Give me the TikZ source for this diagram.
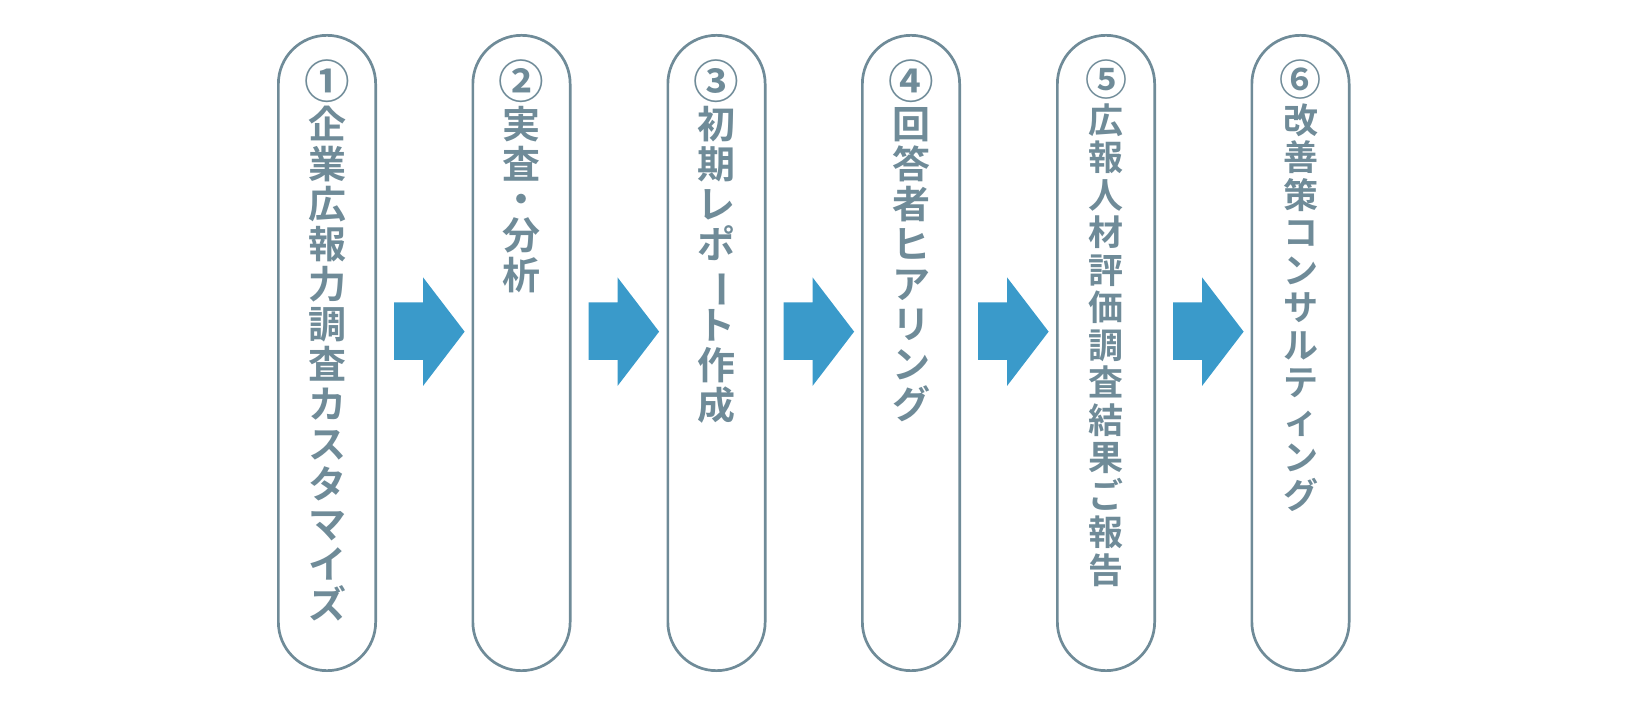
\documentclass[tikz,border=0pt]{standalone}
\usepackage{fontspec}
\newfontfamily\jpfont{Noto Sans CJK JP}[BoldFont={Noto Sans CJK JP Bold}]
\usetikzlibrary{calc,positioning}
\definecolor{pillgray}{RGB}{111,139,152}
\definecolor{flowblue}{RGB}{58,154,202}
\newcommand{\vbar}{\rotatebox[origin=c]{-90}{ー}}
\newcommand{\stepno}[1]{\scalebox{1.2}{#1}}

\begin{document}
\begin{tikzpicture}[x=1pt,y=1pt,
    pill/.style={draw=pillgray,line width=2.7pt,rounded corners=48.6pt,minimum width=97.3pt,minimum height=635.3pt,inner sep=0pt},
    steptext/.style={text=pillgray,align=center,inner sep=0pt,font=\jpfont\bfseries\fontsize{38}{40}\selectfont},
    smalltext/.style={steptext,font=\jpfont\bfseries\fontsize{35}{37.5}\selectfont},
    flow/.style={fill=flowblue}]
  \useasboundingbox (0,0) rectangle (1627,704);
  % step pills
  \foreach \n/\x in {1/327,2/521.5,3/716.5,4/911,5/1106,6/1300.5}
    \node[pill] (p\n) at (\x,351) {};
  % vertical labels
  \node[steptext,below=25pt of p1.north] (t1) {\stepno{①}\\企\\業\\広\\報\\力\\調\\査\\カ\\ス\\タ\\マ\\イ\\ズ};
  \node[steptext,below=25pt of p2.north] (t2) {\stepno{②}\\実\\査\\[-5pt]・\\[-4pt]分\\析};
  \node[steptext,below=25pt of p3.north] (t3) {\stepno{③}\\初\\期\\レ\\ポ\\\vbar\\ト\\作\\成};
  \node[steptext,below=25pt of p4.north] (t4) {\stepno{④}\\回\\答\\者\\ヒ\\ア\\リ\\ン\\グ};
  \node[smalltext,below=26pt of p5.north] (t5) {\stepno{⑤}\\広\\報\\人\\材\\評\\価\\調\\査\\結\\果\\ご\\報\\告};
  \node[smalltext,below=26pt of p6.north] (t6) {\stepno{⑥}\\改\\善\\策\\コ\\ン\\サ\\ル\\テ\\ィ\\ン\\グ};
  % arrows between pills
  \foreach \a/\b in {1/2,2/3,3/4,4/5,5/6}
    \fill[flow] ($(p\a.east)+(17,-7)$) -- ++(0,57.7) -- ++(29,0) -- ++(0,25)
      -- ++(41.6,-54.35) -- ++(-41.6,-54.35) -- ++(0,26) -- cycle;
\end{tikzpicture}
\end{document}
